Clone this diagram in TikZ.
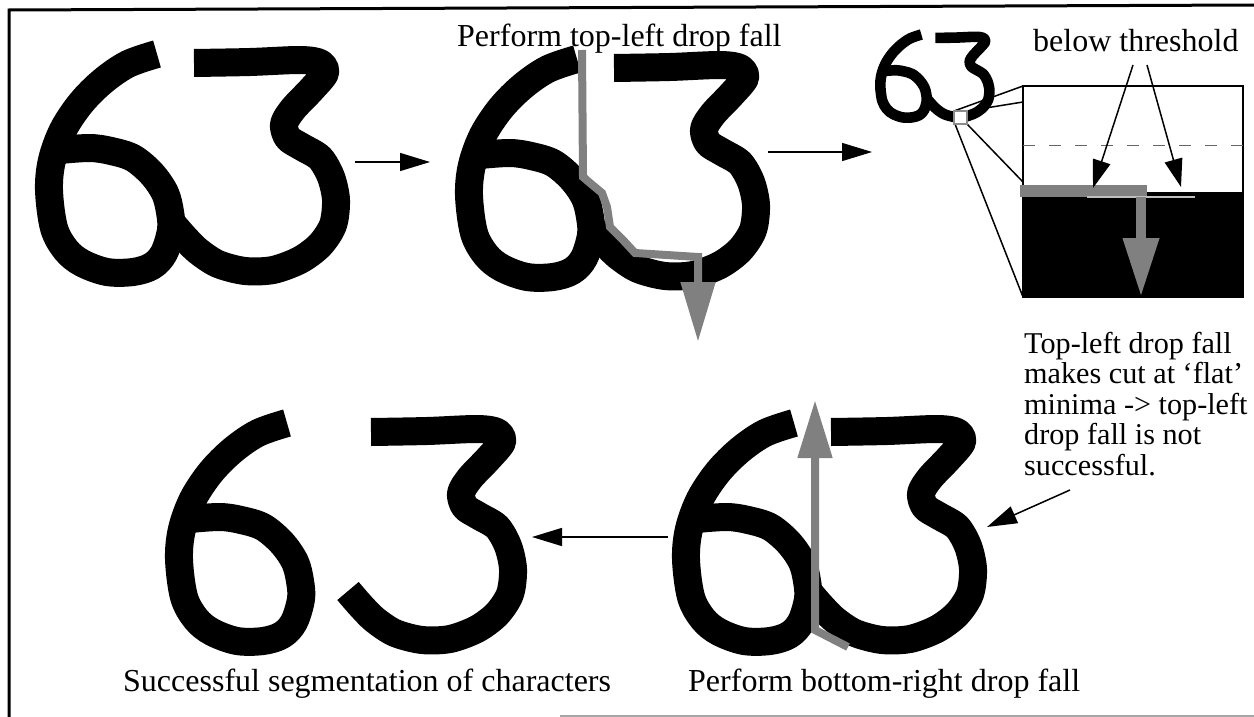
\documentclass[tikz,border=0pt]{standalone}
\usepackage{fontspec}
\setmainfont{Liberation Serif}
\usetikzlibrary{arrows.meta}
\definecolor{dropgray}{gray}{0.5}
\tikzset{
  glyph/.style={line width=28pt, line cap=butt, line join=round, draw=black},
  smallglyph/.style={line width=10.6pt, line cap=butt, line join=round, draw=black},
  blackarrow/.style={line width=1.5pt, -{Triangle[length=30pt,width=18pt]}},
  thinarrow/.style={line width=1.5pt, -{Triangle[length=28pt,width=18pt]}},
  droppath/.style={line width=8pt, draw=dropgray, line join=miter},
  txt/.style={inner sep=0pt, font=\fontsize{32}{30.5}\selectfont},
  notetxt/.style={inner sep=0pt, font=\fontsize{30.2}{30.5}\selectfont},
  zoomline/.style={line width=1.5pt},
}
\newcommand\drawsix[1]{\draw[#1] plot[smooth, tension=0.55] coordinates {(157,54) (128,64) (103,81) (81,103) (63,130) (52,160) (49,190) (54,228) (66,250) (82,263) (107,272) (133,272) (152,266) (164,253) (171,230) (170,212) (165,193) (152,174) (133,158) (111,151) (90,148) (60,150)};}
\newcommand\drawthree[1]{\draw[#1] plot[smooth, tension=0.5] coordinates {(194,63) (250,62) (300,60) (320,63) (325,73) (311,90) (293,109) (284,124) (288,138) (302,147) (320,158) (331,177) (336,200) (333,225) (320,245) (300,260) (273,270) (245,271) (218,264) (198,251) (184,237) (171,222)};}
\begin{document}
\begin{tikzpicture}[x=1pt,y=-1pt]
\useasboundingbox (0,0) rectangle (1254,717);
% frame
\draw[line width=3pt] (9,717) -- (9,10) -- (1254,5);
\draw[black!35, line width=2pt] (560,716) -- (1254,716);

% glyph 1
\begin{scope}\drawsix{glyph}\drawthree{glyph}\end{scope}
% glyph 2
\begin{scope}[shift={(420,5)}]\drawsix{glyph}\drawthree{glyph}\end{scope}
% glyph 3 (small)
\begin{scope}[shift={(861.7,14)}, scale=0.38]\drawsix{smallglyph}\drawthree{smallglyph}\end{scope}
% glyph 4
\begin{scope}[shift={(637,369)}]\drawsix{glyph}\drawthree{glyph}\end{scope}
% glyph 5 (segmented)
\begin{scope}[shift={(130,369)}]\drawsix{glyph}\end{scope}
\begin{scope}[shift={(177,369)}]\drawthree{glyph}\end{scope}

% drop fall paths
\draw[droppath, -{Triangle[length=60pt,width=33pt]}] (582,50) -- (583,177) -- (590,183) -- (602,193) -- (607,207) -- (610,227) -- (623,240) -- (635,253) -- (698,257) -- (698,342);
\draw[droppath, -{Triangle[length=58pt,width=33pt]}] (848,647) -- (815,630) -- (815,400);

% coordinates
\coordinate (a1s) at (355,162); \coordinate (a1e) at (430,162);
\coordinate (a2s) at (768,152); \coordinate (a2e) at (872,152);
\coordinate (a3s) at (668,537); \coordinate (a3e) at (532,537);
\coordinate (a4s) at (1070,490); \coordinate (a4e) at (987,527);
\draw[blackarrow] (a1s) -- (a1e);
\draw[blackarrow] (a2s) -- (a2e);
\draw[blackarrow] (a3s) -- (a3e);
\draw[blackarrow] (a4s) -- (a4e);

% zoom box
\coordinate (sqTL) at (954,111); \coordinate (sqTR) at (967,111);
\coordinate (sqBL) at (955,124); \coordinate (sqBR) at (967,124);
\coordinate (bxTL) at (1023,86); \coordinate (bxL1) at (1023,102);
\coordinate (bxL2) at (1023,182); \coordinate (bxBL) at (1023,297);
\coordinate (bxBR) at (1243,297);
\draw[zoomline] (sqTL) -- (bxTL);
\draw[zoomline] (sqTR) -- (bxL1);
\draw[zoomline] (sqBL) -- (bxBL);
\draw[zoomline] (sqBR) -- (bxL2);
\draw[fill=white, draw=black!45, line width=1.5pt] (sqTL) rectangle (sqBR);
\fill[black] (1023,192) rectangle (bxBR);
\draw[line width=1.5pt] (bxTL) rectangle (bxBR);
\draw[black!60, line width=1pt, dash pattern=on 12pt off 14pt] (1023,145) -- (1243,145);
\fill[dropgray] (1020,185) rectangle (1147,197);
\draw[black!25, line width=2pt] (1087,196.5) -- (1195,196.5);
\draw[droppath, line width=10pt, -{Triangle[length=59pt,width=34pt]}] (1141,197) -- (1141,297);

% texts
\node[txt, anchor=base west] (t1) at (457,47) {Perform top-left drop fall};
\node[txt, anchor=base west] (bt) at (1033,52) {below threshold};
\node[notetxt, anchor=north west, align=left] (note) at (1024,332) {Top-left drop fall\\makes cut at ‘flat’\\minima -> top-left\\drop fall is not\\successful.};
\node[txt, anchor=base west] (t4) at (688,691) {Perform bottom-right drop fall};
\node[txt, anchor=base west] (t5) at (123,691) {Successful segmentation of characters};

\coordinate (b1s) at (1133,65); \coordinate (b1e) at (1093,188);
\coordinate (b2s) at (1147,65); \coordinate (b2e) at (1181,187);
\draw[thinarrow] (b1s) -- (b1e);
\draw[thinarrow] (b2s) -- (b2e);
\end{tikzpicture}
\end{document}
